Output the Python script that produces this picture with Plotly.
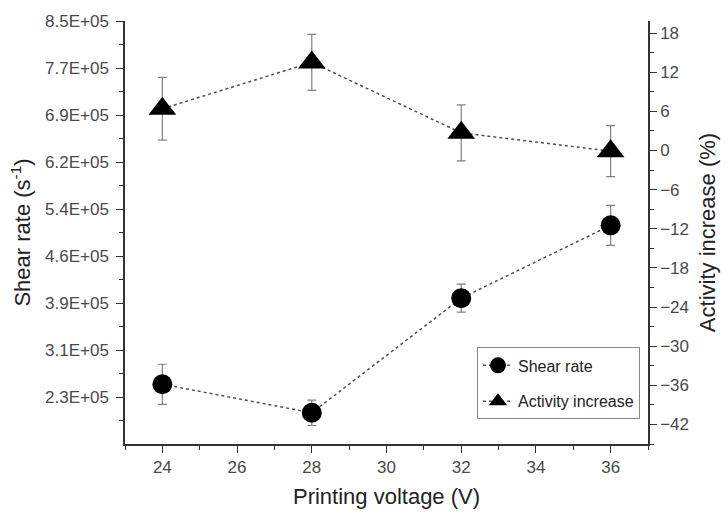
import plotly.graph_objects as go

# ---- data ----
voltage = [24, 28, 32, 36]
shear_rate = [2.51e5, 2.04e5, 3.93e5, 5.13e5]
shear_rate_err = [3.3e4, 2.1e4, 2.3e4, 3.3e4]
activity_increase = [6.4, 13.5, 2.7, -0.1]
activity_increase_err = [4.8, 4.3, 4.3, 3.9]

left_tick_vals = [2.3e5, 3.075e5, 3.85e5, 4.625e5, 5.4e5, 6.175e5, 6.95e5, 7.725e5, 8.5e5]
left_tick_text = ["2.3E+05", "3.1E+05", "3.9E+05", "4.6E+05", "5.4E+05",
                  "6.2E+05", "6.9E+05", "7.7E+05", "8.5E+05"]
left_minor_vals = [1.9125e5, 2.6875e5, 3.4625e5, 4.2375e5, 5.0125e5,
                   5.7875e5, 6.5625e5, 7.3375e5, 8.1125e5]
left_range = [1.525e5, 8.5e5]
right_range = [-45, 19.85]
x_range = [23, 37]

FONT = "Liberation Sans, Arial, sans-serif"
AXIS_COLOR = "#333333"
TICK_COLOR = "#4a4a4a"
TITLE_COLOR = "#222222"

fig = go.Figure()

fig.add_trace(go.Scatter(
    x=voltage, y=shear_rate, name="Shear rate",
    mode="lines+markers",
    line=dict(color="#505050", width=1.5, dash="dot"),
    marker=dict(symbol="circle", size=20, color="black"),
    error_y=dict(type="data", array=shear_rate_err, color="#808080", thickness=1.2, width=4.5),
    legendgroup="a", yaxis="y",
))
fig.add_trace(go.Scatter(
    x=voltage, y=activity_increase, name="Activity increase",
    mode="lines+markers",
    line=dict(color="#505050", width=1.5, dash="dot"),
    marker=dict(symbol="triangle-up", size=24, color="black"),
    error_y=dict(type="data", array=activity_increase_err, color="#808080", thickness=1.2, width=4.5),
    legendgroup="b", yaxis="y2",
))

tickfont = dict(family=FONT, size=17, color=TICK_COLOR)
titlefont = dict(family=FONT, size=22, color=TITLE_COLOR)

fig.update_layout(
    width=728, height=517,
    margin=dict(l=125, r=72, t=20, b=69),
    paper_bgcolor="white", plot_bgcolor="white",
    showlegend=True,
    legend=dict(
        x=0.673, y=0.058, xanchor="left", yanchor="bottom",
        bordercolor="#888888", borderwidth=1, bgcolor="white",
        font=dict(family=FONT, size=16, color=TITLE_COLOR),
        traceorder="grouped", tracegroupgap=12,
    ),
    xaxis=dict(
        range=x_range, tickmode="linear", tick0=24, dtick=2,
        ticks="outside", ticklen=7, tickwidth=1.3, tickcolor=AXIS_COLOR,
        minor=dict(ticks="outside", ticklen=4, tickwidth=1.3, tickcolor=AXIS_COLOR, dtick=1, tick0=23),
        showline=True, linecolor=AXIS_COLOR, linewidth=1.5,
        showgrid=False, zeroline=False,
        tickfont=tickfont,
        title=dict(text="Printing voltage (V)", font=titlefont, standoff=12),
    ),
    xaxis2=dict(
        range=x_range, overlaying="x", side="top", anchor="y",
        tickmode="linear", tick0=24, dtick=2,
        ticks="inside", ticklen=7, tickwidth=1.3, tickcolor=AXIS_COLOR,
        minor=dict(ticks="inside", ticklen=4, tickwidth=1.3, tickcolor=AXIS_COLOR, dtick=1, tick0=23),
        showline=True, linecolor=AXIS_COLOR, linewidth=1.5,
        showgrid=False, zeroline=False, showticklabels=False,
    ),
    yaxis=dict(
        range=left_range, tickmode="array", tickvals=left_tick_vals, ticktext=left_tick_text,
        ticks="outside", ticklen=7, tickwidth=1.3, tickcolor=AXIS_COLOR,
        minor=dict(ticks="outside", ticklen=4, tickwidth=1.3, tickcolor=AXIS_COLOR,
                   tickmode="array", tickvals=left_minor_vals),
        showline=True, linecolor=AXIS_COLOR, linewidth=1.5,
        showgrid=False, zeroline=False,
        tickfont=tickfont, ticklabelstandoff=4,
        title=dict(text="Shear rate (s<sup>-1</sup>)", font=titlefont, standoff=8),
    ),
    yaxis2=dict(
        range=right_range, overlaying="y", side="right", anchor="x",
        tickmode="linear", tick0=0, dtick=6,
        ticks="outside", ticklen=7, tickwidth=1.3, tickcolor=AXIS_COLOR,
        minor=dict(ticks="outside", ticklen=4, tickwidth=1.3, tickcolor=AXIS_COLOR, dtick=3, tick0=0),
        showline=True, linecolor=AXIS_COLOR, linewidth=1.5,
        showgrid=False, zeroline=False,
        tickfont=tickfont,
        title=dict(text="Activity increase (%)", font=titlefont, standoff=12),
    ),
)

fig.write_html("out.html")
